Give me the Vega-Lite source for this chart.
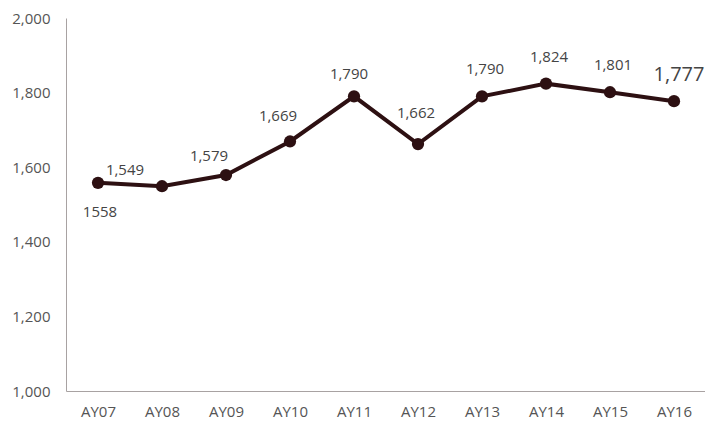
{
  "$schema": "https://vega.github.io/schema/vega-lite/v6.json",
  "width": 640,
  "height": 373,
  "autosize": {"type": "none"},
  "padding": {"left": 66, "top": 18, "right": 0, "bottom": 32},
  "background": "white",
  "config": {
    "view": {"stroke": null},
    "font": "Open Sans",
    "text": {"fontSize": 15, "color": "#444444"}
  },
  "data": {
    "values": [
      {"year": "AY07", "value": 1558, "label": "1558"},
      {"year": "AY08", "value": 1549, "label": "1,549"},
      {"year": "AY09", "value": 1579, "label": "1,579"},
      {"year": "AY10", "value": 1669, "label": "1,669"},
      {"year": "AY11", "value": 1790, "label": "1,790"},
      {"year": "AY12", "value": 1662, "label": "1,662"},
      {"year": "AY13", "value": 1790, "label": "1,790"},
      {"year": "AY14", "value": 1824, "label": "1,824"},
      {"year": "AY15", "value": 1801, "label": "1,801"},
      {"year": "AY16", "value": 1777, "label": "1,777"}
    ]
  },
  "encoding": {
    "x": {
      "field": "year", "type": "ordinal",
      "scale": {"type": "point", "padding": 0.5},
      "axis": {
        "title": null, "labelAngle": 0, "ticks": false, "grid": false,
        "domainColor": "#a8a2a2", "labelColor": "#555555", "labelFontSize": 15,
        "labelPadding": 13, "labelFont": "Open Sans"
      }
    },
    "y": {
      "field": "value", "type": "quantitative",
      "scale": {"domain": [1000, 2000], "nice": false, "zero": false},
      "axis": {
        "title": null, "values": [1000, 1200, 1400, 1600, 1800, 2000],
        "format": ",.0f", "ticks": false, "grid": false,
        "domainColor": "#a8a2a2", "labelColor": "#555555", "labelFontSize": 15,
        "labelPadding": 16, "labelFont": "Open Sans"
      }
    },
    "text": {"field": "label"}
  },
  "layer": [
    {"mark": {"type": "line", "color": "#2d1012", "strokeWidth": 4}, "encoding": {"text": null}},
    {"mark": {"type": "point", "filled": true, "color": "#2d1012", "size": 150, "opacity": 1}, "encoding": {"text": null}},
    {"transform": [{"filter": "datum.year == 'AY07'"}], "mark": {"type": "text", "dy": 29, "dx": 2}},
    {"transform": [{"filter": "datum.year == 'AY08'"}], "mark": {"type": "text", "dy": -16, "dx": -37}},
    {"transform": [{"filter": "datum.year == 'AY09'"}], "mark": {"type": "text", "dy": -19, "dx": -17}},
    {"transform": [{"filter": "datum.year == 'AY10'"}], "mark": {"type": "text", "dy": -25, "dx": -12}},
    {"transform": [{"filter": "datum.year == 'AY11'"}], "mark": {"type": "text", "dy": -22, "dx": -5}},
    {"transform": [{"filter": "datum.year == 'AY12'"}], "mark": {"type": "text", "dy": -31, "dx": -2}},
    {"transform": [{"filter": "datum.year == 'AY13' || datum.year == 'AY14' || datum.year == 'AY15'"}], "mark": {"type": "text", "dy": -27, "dx": 3}},
    {"transform": [{"filter": "datum.year == 'AY16'"}], "mark": {"type": "text", "dy": -26, "dx": 5, "fontSize": 20}}
  ]
}
